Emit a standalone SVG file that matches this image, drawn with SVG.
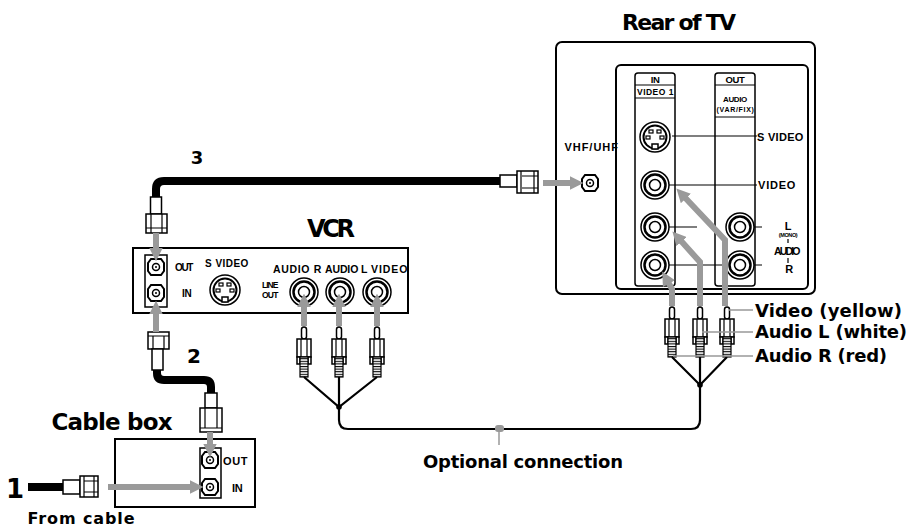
<svg xmlns="http://www.w3.org/2000/svg" width="911" height="529" viewBox="0 0 911 529">
<style>
.b{fill:none;stroke:#000;stroke-width:1.5}
.bw{fill:#fff;stroke:#000;stroke-width:1.5}
.bx{fill:#fff;stroke:#000;stroke-width:2}
.cab{fill:none;stroke:#000;stroke-width:8}
.arr{fill:none;stroke:#9a9a9a;stroke-width:6;marker-end:url(#ah)}
.ld{fill:none;stroke:#999;stroke-width:1.5}
.wire{fill:none;stroke:#000;stroke-width:2.2}
.big{font-family:"DejaVu Sans",sans-serif;font-weight:bold;fill:#000}
.sm{font-family:"Liberation Sans",Arial,sans-serif;font-weight:bold;fill:#000;letter-spacing:-0.4px}
.ln{stroke:#000;stroke-width:1.2;fill:none}
</style>
<defs>
<marker id="ah" viewBox="0 0 10 10" refX="1" refY="5" markerWidth="2.3" markerHeight="2.3" orient="auto" markerUnits="strokeWidth"><path d="M0,0 L10,5 L0,10 z" fill="#9a9a9a"/></marker>
<pattern id="thr" width="4" height="2.6" patternUnits="userSpaceOnUse"><rect width="4" height="1.3" fill="#000"/><rect y="1.3" width="4" height="1.3" fill="#fff"/></pattern>
<g id="rca">
<rect x="-2.5" y="0" width="5" height="12" rx="2.5" class="bw"/>
<rect x="-7" y="12" width="14" height="18" class="bw"/>
<path d="M-3,12 V30 M3,12 V30" class="ln"/>
<rect x="-7" y="30" width="3" height="7" class="bw"/>
<rect x="4" y="30" width="3" height="7" class="bw"/>
<rect x="-4" y="30" width="8" height="20" fill="url(#thr)" stroke="#000" stroke-width="1.2"/>
</g>
<g id="jack">
<circle r="14" class="bw"/>
<circle r="10.5" fill="none" stroke="#000" stroke-width="2.5"/>
<circle r="5.5" class="b"/>
</g>
<g id="cx">
<path d="M-5,-8 H5 L8,-4 V4 L5,8 H-5 L-8,4 V-4 Z" fill="#fff" stroke="#000" stroke-width="2"/>
<circle r="3.5" class="b"/>
<circle r="1" fill="#000"/>
</g>
<g id="sv">
<circle r="15" class="bw"/>
<circle r="11.5" fill="none" stroke="#000" stroke-width="2"/>
<rect x="-6" y="-7" width="4" height="3" class="ln"/>
<rect x="2" y="-7" width="4" height="3" class="ln"/>
<rect x="-9" y="-1" width="4" height="3" class="ln"/>
<rect x="5" y="-1" width="4" height="3" class="ln"/>
<rect x="-3" y="7" width="6" height="5" class="bw"/>
</g>
</defs>
<rect width="911" height="529" fill="#fff"/>

<g id="tv">
<rect x="556" y="42" width="259" height="252" rx="6" class="bx"/>
<rect x="616" y="65" width="192" height="224" rx="5" class="bx"/>
<rect x="635" y="73" width="40" height="213" rx="3" class="b"/>
<rect x="715" y="73" width="40" height="213" rx="3" class="b"/>
<path d="M635,85 H675 M635,98 H675 M715,85 H755 M715,117 H755" class="ln"/>
<text class="sm" x="655" y="83" font-size="9.5" text-anchor="middle">IN</text>
<text class="sm" x="655" y="95" font-size="8.5" text-anchor="middle" textLength="36">VIDEO 1</text>
<text class="sm" x="735" y="83" font-size="9.5" text-anchor="middle">OUT</text>
<text class="sm" x="735" y="102" font-size="8" text-anchor="middle">AUDIO</text>
<text class="sm" x="735" y="112" font-size="7" text-anchor="middle" textLength="37">(VAR/FIX)</text>
<path d="M672,136 H757 M669,185 H757 M669,227 H697 M669,265 H727 M754,227 H762 M754,265 H762 M788,239 V243 M788,258 V263" class="ln"/>
<use href="#sv" x="655" y="137"/>
<use href="#jack" x="655" y="185"/>
<use href="#jack" x="655" y="227"/>
<use href="#jack" x="655" y="265"/>
<use href="#jack" x="740" y="227"/>
<use href="#jack" x="740" y="265"/>
<text class="sm" x="757" y="141" font-size="11" textLength="46">S VIDEO</text>
<text class="sm" x="758" y="189" font-size="11" textLength="37">VIDEO</text>
<text class="sm" x="788" y="230" font-size="11" text-anchor="middle">L</text>
<text class="sm" x="788" y="237" font-size="5.5" text-anchor="middle">(MONO)</text>
<text class="sm" x="787" y="255" font-size="10.5" text-anchor="middle" textLength="26">AUDIO</text>
<text class="sm" x="789" y="273" font-size="11" text-anchor="middle">R</text>
<text class="sm" x="591" y="151" font-size="11" text-anchor="middle" textLength="53">VHF/UHF</text>
<use href="#cx" x="590" y="183"/>
</g>
<text class="big" x="679" y="30" font-size="22" text-anchor="middle" textLength="114">Rear of TV</text>

<g id="vcr">
<rect x="133" y="248" width="275" height="65" class="bx"/>
<rect x="145" y="255" width="22" height="52" class="b"/>
<use href="#cx" x="156" y="267"/>
<use href="#cx" x="156" y="293"/>
<text class="sm" x="175" y="271" font-size="10" textLength="18">OUT</text>
<text class="sm" x="182" y="297" font-size="10">IN</text>
<text class="sm" x="205" y="267" font-size="10" textLength="43">S VIDEO</text>
<use href="#sv" x="225" y="290"/>
<text class="sm" x="262" y="288" font-size="8.5" textLength="16">LINE</text>
<text class="sm" x="262" y="298" font-size="8.5" textLength="16">OUT</text>
<text class="sm" x="273" y="273" font-size="10.5" textLength="48">AUDIO R</text>
<text class="sm" x="325" y="273" font-size="10.5" textLength="42">AUDIO L</text>
<text class="sm" x="371" y="273" font-size="10.5" textLength="36">VIDEO</text>
<use href="#jack" x="304" y="292"/>
<use href="#jack" x="340" y="292"/>
<use href="#jack" x="377" y="292"/>
</g>
<text class="big" x="331" y="237" font-size="24" text-anchor="middle" textLength="48">VCR</text>

<g id="cablebox">
<rect x="115" y="439" width="140" height="68" class="bx"/>
<rect x="200" y="448" width="21" height="50" class="b"/>
<use href="#cx" x="210" y="460"/>
<use href="#cx" x="210" y="487"/>
<text class="sm" x="223" y="465" font-size="11" textLength="24">OUT</text>
<text class="sm" x="232" y="492" font-size="11">IN</text>
</g>
<text class="big" x="112" y="430" font-size="23" text-anchor="middle" textLength="121">Cable box</text>

<g id="cables">
<path d="M156,197 V189 Q156,181 164,181 H500" class="cab"/>
<path d="M157,370 V373 Q157,380 164,380 H204 Q211,380 211,387 V393" class="cab" stroke-width="9"/>
<path d="M28,487 H63" class="cab"/>
<rect x="150.5" y="197" width="11" height="17" class="bw"/>
<rect x="146" y="214" width="21" height="19" class="bw"/>
<path d="M151,214 V233 M162,214 V233 M146,228 H167" class="ln"/>
<rect x="500" y="175" width="17" height="12" class="bw"/>
<rect x="517" y="171" width="21" height="22" class="bw"/>
<path d="M521,171 V193 M522,176 H538 M522,188 H538 M534,171 V193" class="ln"/>
<rect x="148" y="332" width="21" height="17" class="bw"/>
<path d="M148,336 H169 M153,336 V349 M164,336 V349" class="ln"/>
<rect x="152" y="349" width="11" height="21" class="bw"/>
<rect x="205" y="393" width="12" height="15" class="bw"/>
<rect x="200" y="408" width="22" height="24" class="bw"/>
<path d="M200,428 H222 M205,408 V428 M217,408 V428" class="ln"/>
<rect x="63" y="480" width="17" height="14" class="bw"/>
<rect x="80" y="476" width="18" height="21" class="bw"/>
<path d="M84,476 V497 M94,476 V497 M84,481 H98 M84,492 H98" class="ln"/>
</g>
<text class="big" x="197" y="164" font-size="18" text-anchor="middle">3</text>
<text class="big" x="194" y="363" font-size="20" text-anchor="middle">2</text>
<text class="big" x="15" y="498" font-size="26" text-anchor="middle">1</text>
<text class="big" x="81" y="524" font-size="16" text-anchor="middle" textLength="107">From cable</text>

<g id="plugs-left">
<use href="#rca" x="304" y="327"/>
<use href="#rca" x="339" y="327"/>
<use href="#rca" x="377" y="327"/>
<path d="M304,377 L339,407 L377,377 M339,377 V407" class="wire"/>
<circle cx="339" cy="407" r="2.8" fill="#000"/>
</g>
<g id="plugs-right">
<use href="#rca" x="672" y="307"/>
<use href="#rca" x="700" y="307"/>
<use href="#rca" x="727" y="307"/>
<path d="M672,357 L700,385 L727,357 M700,357 V385" class="wire"/>
<circle cx="700" cy="385" r="2.8" fill="#000"/>
</g>

<g id="connectors">
<path d="M339,407 V420 Q339,429 348,429 H691 Q700,429 700,420 V385" class="wire" stroke-width="2.5"/>
<rect x="495" y="425" width="9" height="7" rx="3" fill="#999"/>
<path d="M499,430 V445" class="ld"/>
<path d="M108,487 H191" class="arr"/>
<path d="M210,432 V445" class="arr"/>
<path d="M156,332 V313" class="arr"/>
<path d="M156,233 V249" class="arr"/>
<path d="M304,326 V306" class="arr"/>
<path d="M339,326 V306" class="arr"/>
<path d="M377,326 V306" class="arr"/>
<path d="M543,183 H571" class="arr"/>
<path d="M672,306 V289 L668.3,282.4" class="arr"/>
<path d="M700,306 V262 L680.7,240.6" class="arr"/>
<path d="M725,306 V240 L684.9,197.5" class="arr"/>
<path d="M729,310 H753 M702,332 H753 M673,356 H753" class="ld"/>
</g>
<text class="big" x="755" y="317" font-size="18" textLength="147">Video (yellow)</text>
<text class="big" x="755" y="338" font-size="18" textLength="152">Audio L (white)</text>
<text class="big" x="755" y="362" font-size="18" textLength="132">Audio R (red)</text>
<text class="big" x="523" y="468" font-size="18" text-anchor="middle" textLength="200">Optional connection</text>
</svg>
